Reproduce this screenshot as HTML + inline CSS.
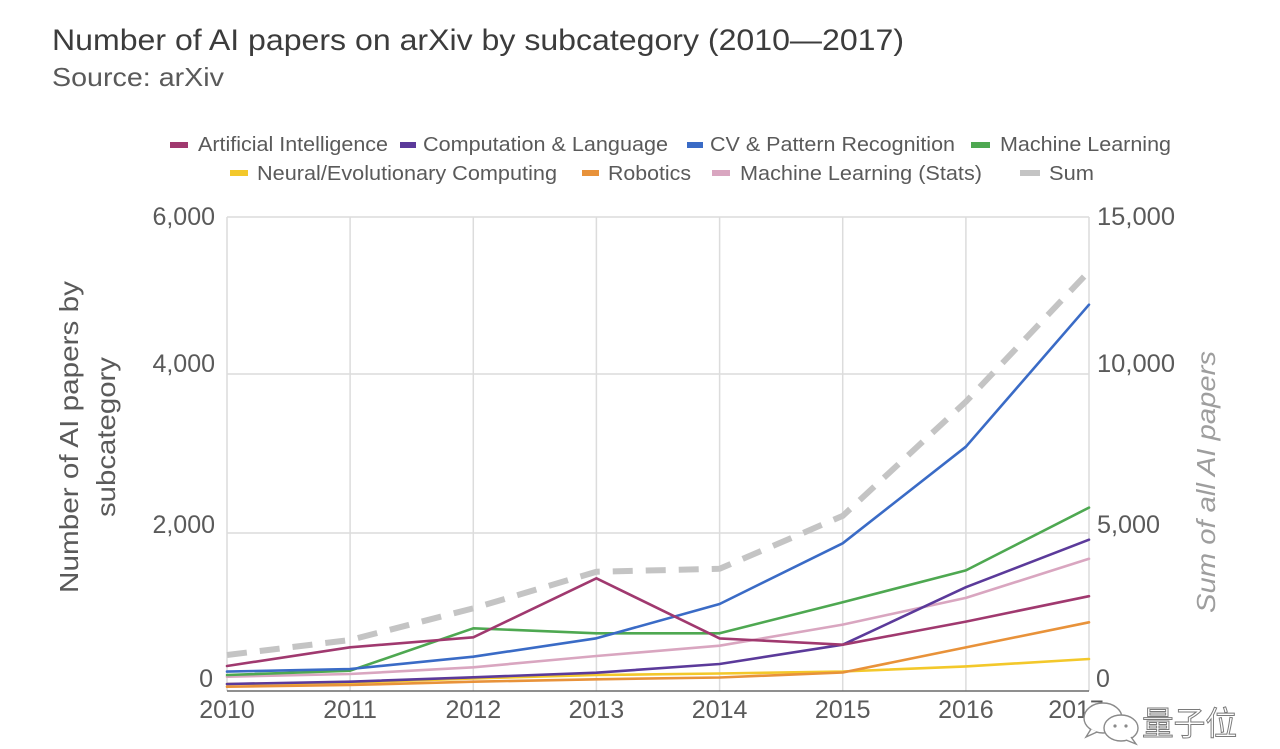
<!DOCTYPE html>
<html>
<head>
<meta charset="utf-8">
<style>
html,body{margin:0;padding:0;background:#fff;}
svg{display:block;}
text{font-family:"Liberation Sans","Noto Sans CJK SC",sans-serif;}
</style>
</head>
<body>
<svg width="1280" height="749" viewBox="0 0 1280 749" xmlns="http://www.w3.org/2000/svg">
<rect x="0" y="0" width="1280" height="749" fill="#fff"/>

<!-- Title -->
<text x="52" y="50" font-size="30" fill="#3c3c3c" textLength="852" lengthAdjust="spacingAndGlyphs">Number of AI papers on arXiv by subcategory (2010—2017)</text>
<text x="52" y="86" font-size="26" fill="#5a5a5a" textLength="172" lengthAdjust="spacingAndGlyphs">Source: arXiv</text>

<!-- Legend row 1 -->
<rect x="170" y="142" width="18" height="6" fill="#a0396f"/>
<text x="198" y="151" font-size="20" fill="#5a5a5a" textLength="190" lengthAdjust="spacingAndGlyphs">Artificial Intelligence</text>
<rect x="400" y="142" width="16" height="6" fill="#5b3a9a"/>
<text x="423" y="151" font-size="20" fill="#5a5a5a" textLength="245" lengthAdjust="spacingAndGlyphs">Computation &amp; Language</text>
<rect x="687" y="142" width="16" height="6" fill="#3a6bc6"/>
<text x="710" y="151" font-size="20" fill="#5a5a5a" textLength="245" lengthAdjust="spacingAndGlyphs">CV &amp; Pattern Recognition</text>
<rect x="971" y="142" width="19" height="6" fill="#4ea851"/>
<text x="1000" y="151" font-size="20" fill="#5a5a5a" textLength="171" lengthAdjust="spacingAndGlyphs">Machine Learning</text>

<!-- Legend row 2 -->
<rect x="230" y="170" width="18" height="6" fill="#f3c82b"/>
<text x="257" y="180" font-size="20" fill="#5a5a5a" textLength="300" lengthAdjust="spacingAndGlyphs">Neural/Evolutionary Computing</text>
<rect x="582" y="170" width="17" height="6" fill="#e8923a"/>
<text x="608" y="180" font-size="20" fill="#5a5a5a" textLength="83" lengthAdjust="spacingAndGlyphs">Robotics</text>
<rect x="712" y="170" width="18" height="6" fill="#d9a6c0"/>
<text x="740" y="180" font-size="20" fill="#5a5a5a" textLength="242" lengthAdjust="spacingAndGlyphs">Machine Learning (Stats)</text>
<rect x="1020" y="170" width="20" height="6" fill="#c4c4c4"/>
<text x="1049" y="180" font-size="20" fill="#5a5a5a" textLength="45" lengthAdjust="spacingAndGlyphs">Sum</text>

<!-- Grid -->
<g stroke="#dcdcdc" stroke-width="1.5" fill="none">
  <line x1="227" y1="217" x2="1089" y2="217"/>
  <line x1="227" y1="374" x2="1089" y2="374"/>
  <line x1="227" y1="533" x2="1089" y2="533"/>
  <line x1="227" y1="217" x2="227" y2="691"/>
  <line x1="350.1" y1="217" x2="350.1" y2="691"/>
  <line x1="473.3" y1="217" x2="473.3" y2="691"/>
  <line x1="596.4" y1="217" x2="596.4" y2="691"/>
  <line x1="719.6" y1="217" x2="719.6" y2="691"/>
  <line x1="842.7" y1="217" x2="842.7" y2="691"/>
  <line x1="965.9" y1="217" x2="965.9" y2="691"/>
  <line x1="1089" y1="217" x2="1089" y2="691"/>
</g>

<!-- Left tick labels -->
<g font-size="25" fill="#5a5a5a" text-anchor="end">
  <text x="215" y="225">6,000</text>
  <text x="215" y="372">4,000</text>
  <text x="215" y="533">2,000</text>
  <text x="213" y="687">0</text>
</g>
<!-- Right tick labels -->
<g font-size="25" fill="#5a5a5a">
  <text x="1097" y="225" textLength="78" lengthAdjust="spacingAndGlyphs">15,000</text>
  <text x="1097" y="372" textLength="78" lengthAdjust="spacingAndGlyphs">10,000</text>
  <text x="1097" y="533" textLength="63" lengthAdjust="spacingAndGlyphs">5,000</text>
  <text x="1096" y="687">0</text>
</g>

<!-- Axis titles -->
<text transform="translate(78,437) rotate(-90)" font-size="26" fill="#5a5a5a" text-anchor="middle" textLength="312" lengthAdjust="spacingAndGlyphs">Number of AI papers by</text>
<text transform="translate(115,437) rotate(-90)" font-size="26" fill="#5a5a5a" text-anchor="middle" textLength="160" lengthAdjust="spacingAndGlyphs">subcategory</text>
<text transform="translate(1215,482) rotate(-90)" font-size="26" font-style="italic" fill="#9e9e9e" text-anchor="middle" textLength="262" lengthAdjust="spacingAndGlyphs">Sum of all AI papers</text>

<!-- X labels -->
<g font-size="25" fill="#5a5a5a" text-anchor="middle">
  <text x="227" y="718">2010</text>
  <text x="350.1" y="718">2011</text>
  <text x="473.3" y="718">2012</text>
  <text x="596.4" y="718">2013</text>
  <text x="719.6" y="718">2014</text>
  <text x="842.7" y="718">2015</text>
  <text x="965.9" y="718">2016</text>
  <text x="1076" y="718">2017</text>
</g>

<!-- Series -->
<g fill="none" stroke-width="2.6" stroke-linejoin="round" stroke-linecap="round">
  <polyline stroke="#f3c82b" points="227,684 350.1,682.7 473.3,678.4 596.4,675 719.6,673.5 842.7,671.5 965.9,666.4 1089,659"/>
  <polyline stroke="#e8923a" points="227,686.7 350.1,685 473.3,681.7 596.4,679.3 719.6,677.5 842.7,672.5 965.9,647.4 1089,622.3"/>
  <polyline stroke="#d9a6c0" points="227,676.7 350.1,674 473.3,667.3 596.4,656 719.6,645.7 842.7,624.6 965.9,597.9 1089,558.8"/>
  <polyline stroke="#5b3a9a" points="227,684 350.1,681.7 473.3,677.3 596.4,672.7 719.6,664 842.7,644.7 965.9,587.2 1089,539.7"/>
  <polyline stroke="#4ea851" points="227,675 350.1,670.7 473.3,628.3 596.4,633.3 719.6,633.3 842.7,602.2 965.9,570.4 1089,507.6"/>
  <polyline stroke="#3a6bc6" points="227,671.6 350.1,669 473.3,656.7 596.4,638.3 719.6,604 842.7,543.3 965.9,446.7 1089,304.7"/>
  <polyline stroke="#a0396f" points="227,666 350.1,647.3 473.3,637.3 596.4,578.3 719.6,638.4 842.7,644.7 965.9,621.6 1089,596.2"/>
  <polyline stroke="#c4c4c4" stroke-width="6" stroke-linecap="butt" stroke-dasharray="20 13" points="227,655 350.1,640 473.3,608.3 596.4,571.7 719.6,568.8 842.7,515.9 965.9,401.7 1089,271.4"/>
</g>

<!-- Bottom axis -->
<line x1="227" y1="691" x2="1089" y2="691" stroke="#6a6a6a" stroke-width="1.6"/>

<!-- Watermark -->
<g>
  <ellipse cx="1103" cy="718" rx="19" ry="15" fill="#fff" stroke="#8a8a8a" stroke-width="1.4"/>
  <path d="M1091,729 L1086,737 L1097,732" fill="#fff" stroke="#8a8a8a" stroke-width="1.4"/>
  <ellipse cx="1121" cy="728" rx="17" ry="13" fill="#fff" stroke="#8a8a8a" stroke-width="1.4"/>
  <path d="M1131,737 L1136,744 L1126,740" fill="#fff" stroke="#8a8a8a" stroke-width="1.4"/>
  <circle cx="1115" cy="726" r="1.6" fill="#8a8a8a"/>
  <circle cx="1126" cy="726" r="1.6" fill="#8a8a8a"/>
  <text x="1142" y="735" font-size="33" fill="#ffffff" stroke="#7a7a7a" stroke-width="1" font-family="'Noto Sans CJK SC','WenQuanYi Zen Hei',sans-serif" textLength="95" lengthAdjust="spacingAndGlyphs">量子位</text>
</g>
</svg>
</body>
</html>
